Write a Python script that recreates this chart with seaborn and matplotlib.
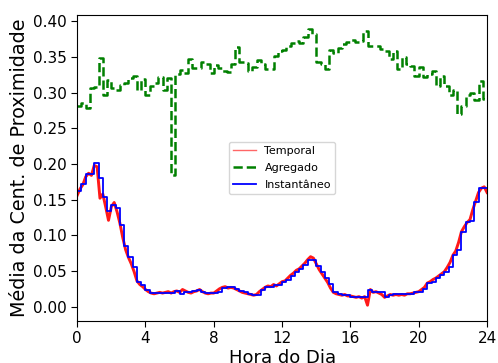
import numpy as np
import pandas as pd
import matplotlib
matplotlib.use("Agg")
import matplotlib.pyplot as plt
import seaborn as sns

# Hora do dia para as séries em degraus (intervalos de 15 minutos)
horas_15min = [i / 4 for i in range(96)]
# Hora do dia para a série temporal (intervalos de 10 minutos)
horas_10min = [k / 6 for k in range(145)]

agregado = [
    0.281, 0.285, 0.278, 0.306, 0.308, 0.348, 0.296, 0.318,
    0.306, 0.303, 0.311, 0.314, 0.320, 0.323, 0.303, 0.319,
    0.296, 0.309, 0.313, 0.322, 0.303, 0.320, 0.185, 0.326,
    0.332, 0.328, 0.347, 0.335, 0.334, 0.343, 0.340, 0.328,
    0.339, 0.334, 0.330, 0.329, 0.340, 0.364, 0.343, 0.342,
    0.331, 0.336, 0.346, 0.340, 0.333, 0.333, 0.351, 0.358,
    0.360, 0.366, 0.369, 0.372, 0.370, 0.378, 0.389, 0.382,
    0.343, 0.340, 0.333, 0.360, 0.356, 0.362, 0.368, 0.371,
    0.374, 0.371, 0.372, 0.387, 0.365, 0.366, 0.366, 0.361,
    0.359, 0.347, 0.358, 0.333, 0.350, 0.340, 0.338, 0.324,
    0.336, 0.322, 0.326, 0.331, 0.310, 0.323, 0.310, 0.296,
    0.303, 0.270, 0.281, 0.297, 0.300, 0.289, 0.317, 0.291,
]

instantaneo = [
    0.162, 0.172, 0.186, 0.186, 0.201, 0.180, 0.154, 0.134,
    0.142, 0.138, 0.115, 0.085, 0.069, 0.056, 0.035, 0.030,
    0.024, 0.019, 0.019, 0.019, 0.019, 0.019, 0.019, 0.022,
    0.017, 0.020, 0.020, 0.022, 0.023, 0.020, 0.019, 0.019,
    0.019, 0.021, 0.026, 0.027, 0.027, 0.025, 0.022, 0.020,
    0.018, 0.016, 0.016, 0.023, 0.027, 0.028, 0.030, 0.030,
    0.035, 0.037, 0.043, 0.049, 0.053, 0.058, 0.066, 0.066,
    0.057, 0.049, 0.040, 0.032, 0.020, 0.017, 0.016, 0.016,
    0.014, 0.014, 0.014, 0.014, 0.023, 0.020, 0.020, 0.020,
    0.013, 0.016, 0.017, 0.017, 0.017, 0.017, 0.018, 0.020,
    0.021, 0.025, 0.033, 0.034, 0.040, 0.044, 0.048, 0.056,
    0.072, 0.080, 0.105, 0.118, 0.120, 0.146, 0.166, 0.166,
]

temporal = [
    0.156, 0.165, 0.171, 0.182, 0.187, 0.184,
    0.198, 0.196, 0.152, 0.158, 0.140, 0.121,
    0.140, 0.146, 0.133, 0.117, 0.097, 0.080,
    0.069, 0.060, 0.049, 0.036, 0.031, 0.028,
    0.024, 0.021, 0.019, 0.018, 0.019, 0.020,
    0.019, 0.020, 0.021, 0.019, 0.021, 0.022,
    0.020, 0.024, 0.022, 0.020, 0.019, 0.021,
    0.022, 0.024, 0.021, 0.019, 0.018, 0.019,
    0.019, 0.022, 0.025, 0.027, 0.028, 0.026,
    0.027, 0.026, 0.024, 0.022, 0.020, 0.019,
    0.018, 0.017, 0.016, 0.017, 0.021, 0.024,
    0.027, 0.029, 0.028, 0.031, 0.029, 0.032,
    0.035, 0.036, 0.040, 0.044, 0.047, 0.051,
    0.053, 0.057, 0.061, 0.066, 0.070, 0.068,
    0.060, 0.052, 0.046, 0.040, 0.034, 0.026,
    0.020, 0.018, 0.017, 0.016, 0.017, 0.015,
    0.015, 0.014, 0.013, 0.014, 0.012, 0.014,
    0.002, 0.024, 0.020, 0.021, 0.019, 0.017,
    0.013, 0.015, 0.017, 0.016, 0.017, 0.016,
    0.017, 0.016, 0.018, 0.018, 0.019, 0.020,
    0.021, 0.024, 0.027, 0.033, 0.035, 0.038,
    0.040, 0.043, 0.046, 0.049, 0.055, 0.062,
    0.072, 0.078, 0.090, 0.105, 0.112, 0.118,
    0.122, 0.136, 0.148, 0.160, 0.166, 0.168,
    0.160,
]

x_ticks = [0, 4, 8, 12, 16, 20, 24]
y_ticks = [0.00, 0.05, 0.10, 0.15, 0.20, 0.25, 0.30, 0.35, 0.40]

# Fecha o último degrau em 24h
df_temp = pd.DataFrame({"hora": horas_10min, "valor": temporal})
df_agr = pd.DataFrame({"hora": horas_15min + [24.0], "valor": agregado + [agregado[-1]]})
df_inst = pd.DataFrame({"hora": horas_15min + [24.0], "valor": instantaneo + [instantaneo[-1]]})

fig = plt.figure(figsize=(4.98, 3.63), dpi=100)
ax = fig.add_axes([0.155, 0.116, 0.823, 0.843])

sns.lineplot(data=df_temp, x="hora", y="valor", ax=ax, color="red",
             linewidth=2.1, alpha=0.9, label="Temporal")
sns.lineplot(data=df_agr, x="hora", y="valor", ax=ax, color="green",
             linewidth=1.8, linestyle="--", drawstyle="steps-post", label="Agregado")
sns.lineplot(data=df_inst, x="hora", y="valor", ax=ax, color="blue",
             linewidth=1.3, drawstyle="steps-post", label="Instantâneo")

ax.set_xlim(0, 24)
ax.set_ylim(-0.020, 0.409)
ax.set_xticks(x_ticks)
ax.set_yticks(y_ticks)
ax.set_yticklabels([f"{v:.2f}" for v in y_ticks])
ax.tick_params(axis="both", labelsize=11, direction="out", length=4)
ax.set_xlabel("Hora do Dia", fontsize=13, labelpad=2)
ax.set_ylabel("Média da Cent. de Proximidade", fontsize=13.8, labelpad=3)

leg = ax.legend(loc="center", fontsize=8, frameon=True, labelspacing=0.6)
leg.get_lines()[0].set_linewidth(1.0)
leg.get_lines()[0].set_alpha(0.6)

fig.savefig("out.png", dpi=100)
